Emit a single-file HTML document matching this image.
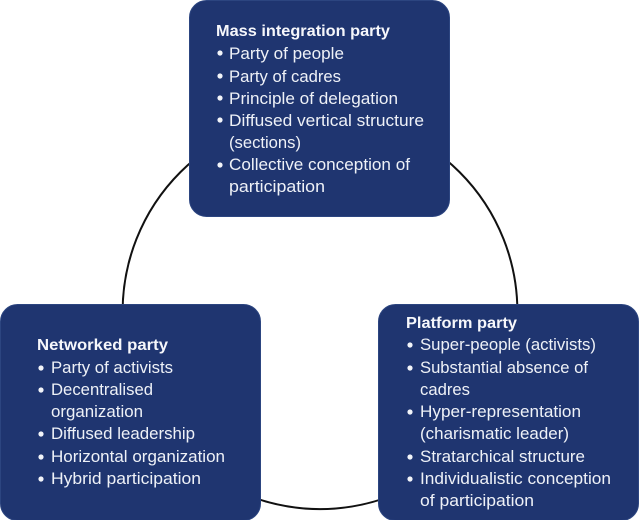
<!DOCTYPE html>
<html><head><meta charset="utf-8"><style>
html,body{margin:0;padding:0;background:#fff;width:640px;height:520px;overflow:hidden}
svg{display:block}
text{font-family:"Liberation Sans",sans-serif;font-size:16.5px;fill:#eef1f7}
.t{font-weight:bold;font-size:16px;fill:#f6f7fb}
</style></head><body>
<svg width="640" height="520" viewBox="0 0 640 520" xmlns="http://www.w3.org/2000/svg">
<circle cx="320" cy="311.700" r="197.400" fill="none" stroke="#111" stroke-width="2"/>
<g fill="#1f3570" stroke="#2c4580" stroke-width="1">
<rect x="189.500" y="0.500" width="260" height="216" rx="17"/>
<rect x="0.500" y="304.500" width="260" height="216" rx="17"/>
<rect x="378.500" y="304.500" width="260" height="216" rx="17"/>
</g>
<g fill="#f2f4f9">
<circle cx="220" cy="53" r="2.600"/><circle cx="220" cy="76" r="2.600"/><circle cx="220" cy="98" r="2.600"/><circle cx="220" cy="120" r="2.600"/><circle cx="220" cy="165" r="2.600"/>
<circle cx="41" cy="368" r="2.600"/><circle cx="41" cy="390" r="2.600"/><circle cx="41" cy="434" r="2.600"/><circle cx="41" cy="457" r="2.600"/><circle cx="41" cy="479" r="2.600"/>
<circle cx="410" cy="345" r="2.600"/><circle cx="410" cy="368" r="2.600"/><circle cx="410" cy="412" r="2.600"/><circle cx="410" cy="457" r="2.600"/><circle cx="410" cy="479" r="2.600"/>
</g>
<text class="t" x="216" y="36" textLength="174" lengthAdjust="spacingAndGlyphs">Mass integration party</text>
<text x="229" y="59" textLength="115" lengthAdjust="spacingAndGlyphs">Party of people</text>
<text x="229" y="82" textLength="112" lengthAdjust="spacingAndGlyphs">Party of cadres</text>
<text x="229" y="104" textLength="169" lengthAdjust="spacingAndGlyphs">Principle of delegation</text>
<text x="229" y="126" textLength="195" lengthAdjust="spacingAndGlyphs">Diffused vertical structure</text>
<text x="229" y="148" textLength="72" lengthAdjust="spacingAndGlyphs">(sections)</text>
<text x="229" y="170" textLength="181" lengthAdjust="spacingAndGlyphs">Collective conception of</text>
<text x="229" y="192" textLength="96" lengthAdjust="spacingAndGlyphs">participation</text>

<text class="t" x="37" y="350" textLength="131" lengthAdjust="spacingAndGlyphs">Networked party</text>
<text x="51" y="373" textLength="122" lengthAdjust="spacingAndGlyphs">Party of activists</text>
<text x="51" y="395" textLength="102" lengthAdjust="spacingAndGlyphs">Decentralised</text>
<text x="51" y="417" textLength="92" lengthAdjust="spacingAndGlyphs">organization</text>
<text x="51" y="439" textLength="144" lengthAdjust="spacingAndGlyphs">Diffused leadership</text>
<text x="51" y="462" textLength="174" lengthAdjust="spacingAndGlyphs">Horizontal organization</text>
<text x="51" y="484" textLength="150" lengthAdjust="spacingAndGlyphs">Hybrid participation</text>

<text class="t" x="406" y="328" textLength="111" lengthAdjust="spacingAndGlyphs">Platform party</text>
<text x="420" y="350" textLength="176" lengthAdjust="spacingAndGlyphs">Super-people (activists)</text>
<text x="420" y="373" textLength="168" lengthAdjust="spacingAndGlyphs">Substantial absence of</text>
<text x="420" y="395" textLength="50" lengthAdjust="spacingAndGlyphs">cadres</text>
<text x="420" y="417" textLength="161" lengthAdjust="spacingAndGlyphs">Hyper-representation</text>
<text x="420" y="439" textLength="149" lengthAdjust="spacingAndGlyphs">(charismatic leader)</text>
<text x="420" y="462" textLength="165" lengthAdjust="spacingAndGlyphs">Stratarchical structure</text>
<text x="420" y="484" textLength="191" lengthAdjust="spacingAndGlyphs">Individualistic conception</text>
<text x="420" y="506" textLength="114" lengthAdjust="spacingAndGlyphs">of participation</text>
</svg>
</body></html>
